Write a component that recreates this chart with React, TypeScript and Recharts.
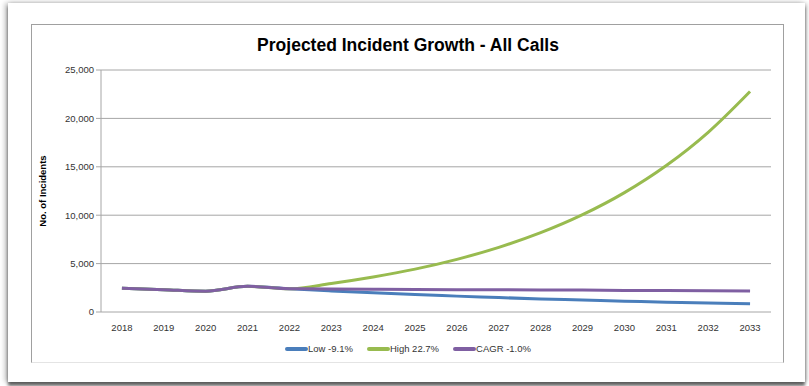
import React from "react";
import {
    LineChart,
    Line,
    XAxis,
    YAxis,
    CartesianGrid,
    Legend,
} from "recharts";

const years = [2018, 2019, 2020, 2021, 2022, 2023, 2024, 2025, 2026, 2027, 2028, 2029, 2030, 2031, 2032, 2033];
const lowValues = [2450, 2300, 2150, 2650, 2400, 2180, 1980, 1800, 1640, 1490, 1350, 1230, 1120, 1020, 930, 850];
const highValues = [2450, 2300, 2150, 2650, 2400, 2950, 3620, 4430, 5440, 6680, 8190, 10050, 12330, 15130, 18560, 22780];
const cagrValues = [2450, 2300, 2150, 2650, 2400, 2380, 2350, 2330, 2310, 2290, 2280, 2260, 2230, 2210, 2190, 2170];
const seriesNames = ["Low -9.1%", "High 22.7%", "CAGR -1.0%"];
const yTicks = [0, 5000, 10000, 15000, 20000, 25000];
const boundaryTicks = [2017.5, 2018.5, 2019.5, 2020.5, 2021.5, 2022.5, 2023.5, 2024.5, 2025.5, 2026.5, 2027.5, 2028.5, 2029.5, 2030.5, 2031.5, 2032.5, 2033.5];

const data = years.map((year, i) => ({
    year,
    low: lowValues[i],
    high: highValues[i],
    cagr: cagrValues[i],
}));

const FONT = "'Liberation Sans', Arial, sans-serif";
const tickStyle = { fill: "#333333", fontSize: 9.5, fontFamily: FONT };
const gridColor = "#a6a6a6";

const renderLegend = (props: any) => {
    const items = [...(props.payload || [])].sort(
        (a: any, b: any) => seriesNames.indexOf(a.value) - seriesNames.indexOf(b.value)
    );
    return (
        <div style={{ display: "flex", justifyContent: "center", gap: 14, paddingTop: 9, paddingLeft: 14, fontFamily: FONT, fontSize: 9.5, color: "#333333" }}>
            {items.map((entry: any) => (
                <div key={entry.value} style={{ display: "flex", alignItems: "center" }}>
                    <span style={{ display: "inline-block", width: 23, height: 4, borderRadius: 2, background: entry.color }} />
                    <span>{entry.value}</span>
                </div>
            ))}
        </div>
    );
};

export default function App() {
    return (
        <div style={{ position: "absolute", left: 0, top: 0, width: 809, height: 386, background: "#ffffff" }}>
            {/* outer panel with shadow */}
            <div
                style={{
                    position: "absolute",
                    left: 8,
                    top: 3,
                    width: 797,
                    height: 379,
                    background: "#ffffff",
                    boxShadow: "-3px 0 5px rgba(0,0,0,0.25), 2px 0 4px rgba(0,0,0,0.2), 0 4px 3px rgba(0,0,0,0.55)",
                }}
            />
            {/* chart box */}
            <div
                style={{
                    position: "absolute",
                    left: 31,
                    top: 24,
                    width: 751,
                    height: 337,
                    borderLeft: "1px solid #a0a0a0",
                    borderTop: "1px solid #a0a0a0",
                    borderRight: "1px solid #a0a0a0",
                    borderBottom: "1px solid #e4e4e4",
                    background: "#ffffff",
                }}
            >
                <div
                    style={{
                        position: "absolute",
                        left: 0,
                        top: 10,
                        width: 752,
                        textAlign: "center",
                        fontFamily: FONT,
                        fontWeight: 700,
                        fontSize: 17.5,
                        color: "#000000",
                    }}
                >
                    Projected Incident Growth - All Calls
                </div>
                <div style={{ position: "absolute", left: -1, top: -1 }}>
                    <LineChart width={752} height={338} data={data} margin={{ top: 46, right: 12, bottom: 4, left: 0 }}>
                        <CartesianGrid vertical={false} stroke={gridColor} strokeWidth={1} />
                        <XAxis
                            xAxisId="labels"
                            dataKey="year"
                            type="number"
                            domain={[2017.5, 2033.5]}
                            allowDataOverflow={true}
                            ticks={years}
                            interval={0}
                            tick={tickStyle}
                            tickLine={false}
                            axisLine={false}
                            tickMargin={6}
                            height={22}
                        />
                        <XAxis
                            xAxisId="bounds"
                            dataKey="year"
                            type="number"
                            domain={[2017.5, 2033.5]}
                            allowDataOverflow={true}
                            ticks={boundaryTicks}
                            interval={0}
                            tick={false}
                            tickLine={{ stroke: gridColor }}
                            tickSize={4}
                            axisLine={{ stroke: gridColor }}
                            height={0}
                        />
                        <YAxis
                            domain={[0, 25000]}
                            ticks={yTicks}
                            width={70}
                            tick={tickStyle}
                            tickLine={{ stroke: gridColor }}
                            tickSize={5}
                            axisLine={{ stroke: gridColor }}
                            tickFormatter={(v: number) => v.toLocaleString("en-US")}
                            label={{
                                value: "No. of Incidents",
                                angle: -90,
                                position: "insideLeft",
                                offset: 12,
                                style: { fill: "#000000", fontSize: 9.5, fontWeight: 700, fontFamily: FONT, textAnchor: "middle" },
                            }}
                        />
                        <Legend content={renderLegend} verticalAlign="bottom" height={24} />
                        <Line xAxisId="labels" type="monotone" dataKey="low" name="Low -9.1%" stroke="#4a7ebb" strokeWidth={3} dot={false} isAnimationActive={false} />
                        <Line xAxisId="labels" type="monotone" dataKey="high" name="High 22.7%" stroke="#98bb4f" strokeWidth={3} dot={false} isAnimationActive={false} />
                        <Line xAxisId="labels" type="monotone" dataKey="cagr" name="CAGR -1.0%" stroke="#7f5fa2" strokeWidth={3} dot={false} isAnimationActive={false} />
                    </LineChart>
                </div>
            </div>
        </div>
    );
}
